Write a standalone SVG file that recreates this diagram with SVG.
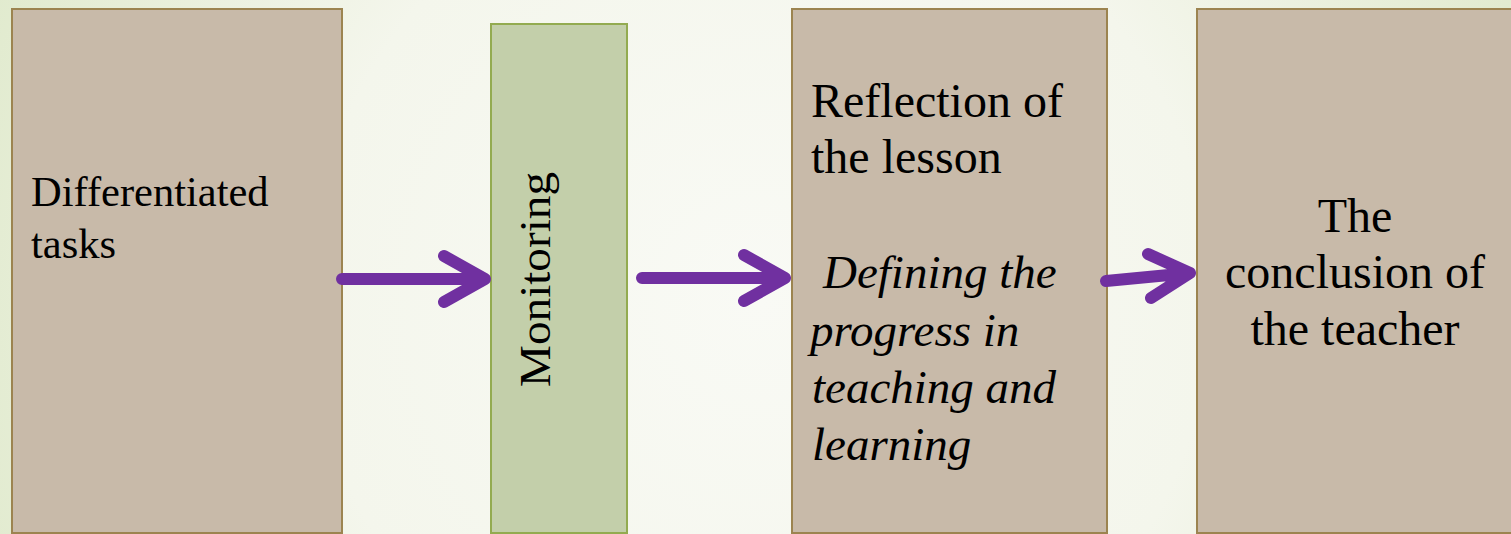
<svg xmlns="http://www.w3.org/2000/svg" width="1511" height="534" viewBox="0 0 1511 534">
<defs>
<radialGradient id="bg" cx="760" cy="300" r="900" gradientUnits="userSpaceOnUse">
<stop offset="0" stop-color="#f9faf5"/>
<stop offset="0.5" stop-color="#f4f6ec"/>
<stop offset="1" stop-color="#dde8c8"/>
</radialGradient>
<style>
.brown{fill:#c8baa9;stroke:#9c8450;stroke-width:2}
.green{fill:#c3cfaa;stroke:#93ab50;stroke-width:2}
.t{font-family:"Liberation Serif","Times New Roman",serif;fill:#000}
.arr{fill:none;stroke:#7030a0;stroke-width:12;stroke-linecap:round;stroke-linejoin:round}
</style>
</defs>
<rect x="0" y="0" width="1511" height="534" fill="url(#bg)"/>
<g id="node-differentiated">
<rect class="brown" x="12" y="9" width="330" height="524"/>
<text class="t" font-size="42.5" x="31" y="206">Differentiated</text>
<text class="t" font-size="42.5" x="31" y="258">tasks</text>
</g>
<g id="node-monitoring">
<rect class="green" x="491" y="24" width="136" height="509"/>
<text class="t" font-size="45" transform="translate(550,387) rotate(-90)" textLength="215" lengthAdjust="spacingAndGlyphs">Monitoring</text>
</g>
<g id="node-reflection">
<rect class="brown" x="792" y="9" width="315" height="524"/>
<text class="t" font-size="48" x="811" y="117">Reflection of</text>
<text class="t" font-size="48" x="811" y="173">the lesson</text>
<text class="t" font-size="47" font-style="italic" x="823" y="288">Defining the</text>
<text class="t" font-size="47" font-style="italic" x="810" y="346">progress in</text>
<text class="t" font-size="47" font-style="italic" x="812" y="403">teaching and</text>
<text class="t" font-size="47" font-style="italic" x="812" y="460">learning</text>
</g>
<g id="node-conclusion">
<rect class="brown" x="1197" y="9" width="330" height="524"/>
<text class="t" font-size="48" x="1355" y="232" text-anchor="middle">The</text>
<text class="t" font-size="48" x="1355" y="288" text-anchor="middle">conclusion of</text>
<text class="t" font-size="48" x="1355" y="345" text-anchor="middle">the teacher</text>
</g>
<g id="connectors">
<path class="arr" d="M342,279 H485 M444,256 L485,279 L444,302"/>
<path class="arr" d="M642,278 H785 M744,255 L785,278 L744,301"/>
<path class="arr" d="M1106,281 L1190,273 M1148,254 L1190,273 L1151,298"/>
</g>
</svg>
